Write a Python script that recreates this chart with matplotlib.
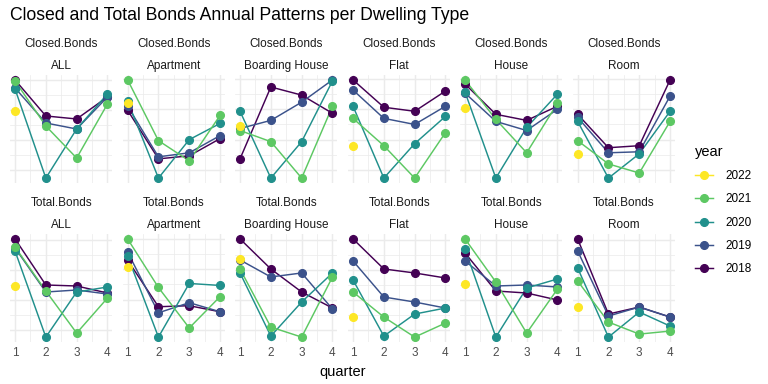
import matplotlib
matplotlib.use("Agg")
import matplotlib.pyplot as plt
from matplotlib.lines import Line2D
from matplotlib.ticker import MaxNLocator, AutoMinorLocator, NullFormatter

plt.rcParams['font.family'] = ['Liberation Sans', 'DejaVu Sans']

# values (free y scale per panel, arbitrary units)
quarters = [1, 2, 3, 4]
years = ['2018', '2019', '2020', '2021', '2022']
dwellings = ['ALL', 'Apartment', 'Boarding House', 'Flat', 'House', 'Room']
measures = ['Closed.Bonds', 'Total.Bonds']

closed_all = [[120, 84, 81, 103], [112, 77, 71, 103], [111, 22, 71, 106], [119, 74, 42, 96], [89]]
closed_apartment = [[89, 41, 44, 61], [93, 43, 47, 64], [98, 22, 60, 76], [119, 59, 39, 84], [96]]
closed_boarding = [[41, 112, 104, 86], [71, 79, 97, 119], [88, 22, 58, 118], [69, 58, 22, 93], [73]]
closed_flat = [[119, 92, 88, 108], [109, 81, 75, 93], [93, 22, 56, 83], [81, 54, 22, 67], [54]]
closed_house = [[115, 85, 79, 93], [106, 78, 69, 90], [107, 22, 72, 105], [119, 80, 47, 96], [91]]
closed_room = [[85, 52, 54, 119], [82, 47, 48, 103], [78, 22, 46, 88], [59, 36, 27, 78], [46]]

total_all = [[121, 75, 74, 67], [112, 68, 70, 66], [109, 23, 68, 73], [113, 69, 27, 62], [74]]
total_apartment = [[99, 53, 54, 48], [107, 47, 57, 48], [103, 23, 76, 74], [120, 72, 32, 63], [92]]
total_boarding = [[121, 91, 68, 52], [100, 83, 87, 51], [87, 24, 58, 87], [91, 33, 23, 83], [101]]
total_flat = [[121, 91, 87, 82], [99, 63, 58, 52], [80, 24, 46, 52], [68, 43, 23, 37], [43]]
total_house = [[107, 69, 67, 60], [99, 74, 75, 73], [111, 23, 72, 81], [121, 78, 27, 71], [76]]
total_room = [[121, 46, 53, 43], [109, 44, 53, 43], [92, 23, 48, 34], [79, 38, 26, 29], [53]]

panels = [
    [closed_all, closed_apartment, closed_boarding, closed_flat, closed_house, closed_room],
    [total_all, total_apartment, total_boarding, total_flat, total_house, total_room],
]

colors = {'2018': '#440154', '2019': '#3B528B', '2020': '#21908C',
          '2021': '#5DC863', '2022': '#FDE725'}

W, H = 768, 384
fig = plt.figure(figsize=(8, 4), dpi=96)

lefts = [10.4, 123.0, 235.4, 348.4, 460.4, 573.0]
pw = 101.7
tops = [75.0, 234.0]
ph = 108.0

for r, row in enumerate(panels):
    for c, data in enumerate(row):
        ax = fig.add_axes([lefts[c] / W, 1 - (tops[r] + ph) / H, pw / W, ph / H])
        for yr, vals in zip(years, data):
            ax.plot(quarters[:len(vals)], vals, color=colors[yr], lw=1.1, zorder=2)
        for yr, vals in zip(years, data):
            ax.plot(quarters[:len(vals)], vals, 'o', color=colors[yr], ms=5.8, zorder=3)
        ax.set_xlim(0.85, 4.15)
        ax.set_xticks(quarters)
        ax.set_xticks([1.5, 2.5, 3.5], minor=True)
        ax.yaxis.set_major_locator(MaxNLocator(4))
        ax.yaxis.set_minor_locator(AutoMinorLocator(2))
        ax.set_yticklabels([])
        ax.yaxis.set_minor_formatter(NullFormatter())
        ax.grid(True, which='major', color='#EBEBEB', lw=1.1, zorder=0)
        ax.grid(True, which='minor', color='#EBEBEB', lw=0.55, zorder=0)
        ax.tick_params(which='both', length=0)
        for s in ax.spines.values():
            s.set_visible(False)
        if r == 0:
            ax.set_xticklabels([])
        else:
            ax.tick_params(axis='x', labelsize=8.8, labelcolor='#4D4D4D', pad=4)
        cx = (lefts[c] + pw / 2) / W
        fig.text(cx, 1 - (tops[r] - 28) / H, measures[r], ha='center', va='baseline',
                 fontsize=8.8, color='#1A1A1A')
        fig.text(cx, 1 - (tops[r] - 6) / H, dwellings[c], ha='center', va='baseline',
                 fontsize=8.8, color='#1A1A1A')

fig.text(10 / W, 1 - 15 / H, 'Closed and Total Bonds Annual Patterns per Dwelling Type',
         ha='left', va='center', fontsize=13.2, color='black')
fig.text(342.5 / W, 1 - 372 / H, 'quarter', ha='center', va='center', fontsize=11)

handles = [Line2D([0], [0], color=colors[y], marker='o', ms=5.8, lw=1.1)
           for y in reversed(years)]
leg = fig.legend(handles, list(reversed(years)), title='year', loc='center left',
                 bbox_to_anchor=(690 / W, 1 - 210 / H), frameon=False, fontsize=8.8,
                 title_fontsize=11, handlelength=1.6, labelspacing=0.96,
                 handletextpad=1.0, borderaxespad=0)
leg._legend_box.align = 'left'

fig.savefig('out.png', dpi=96)
